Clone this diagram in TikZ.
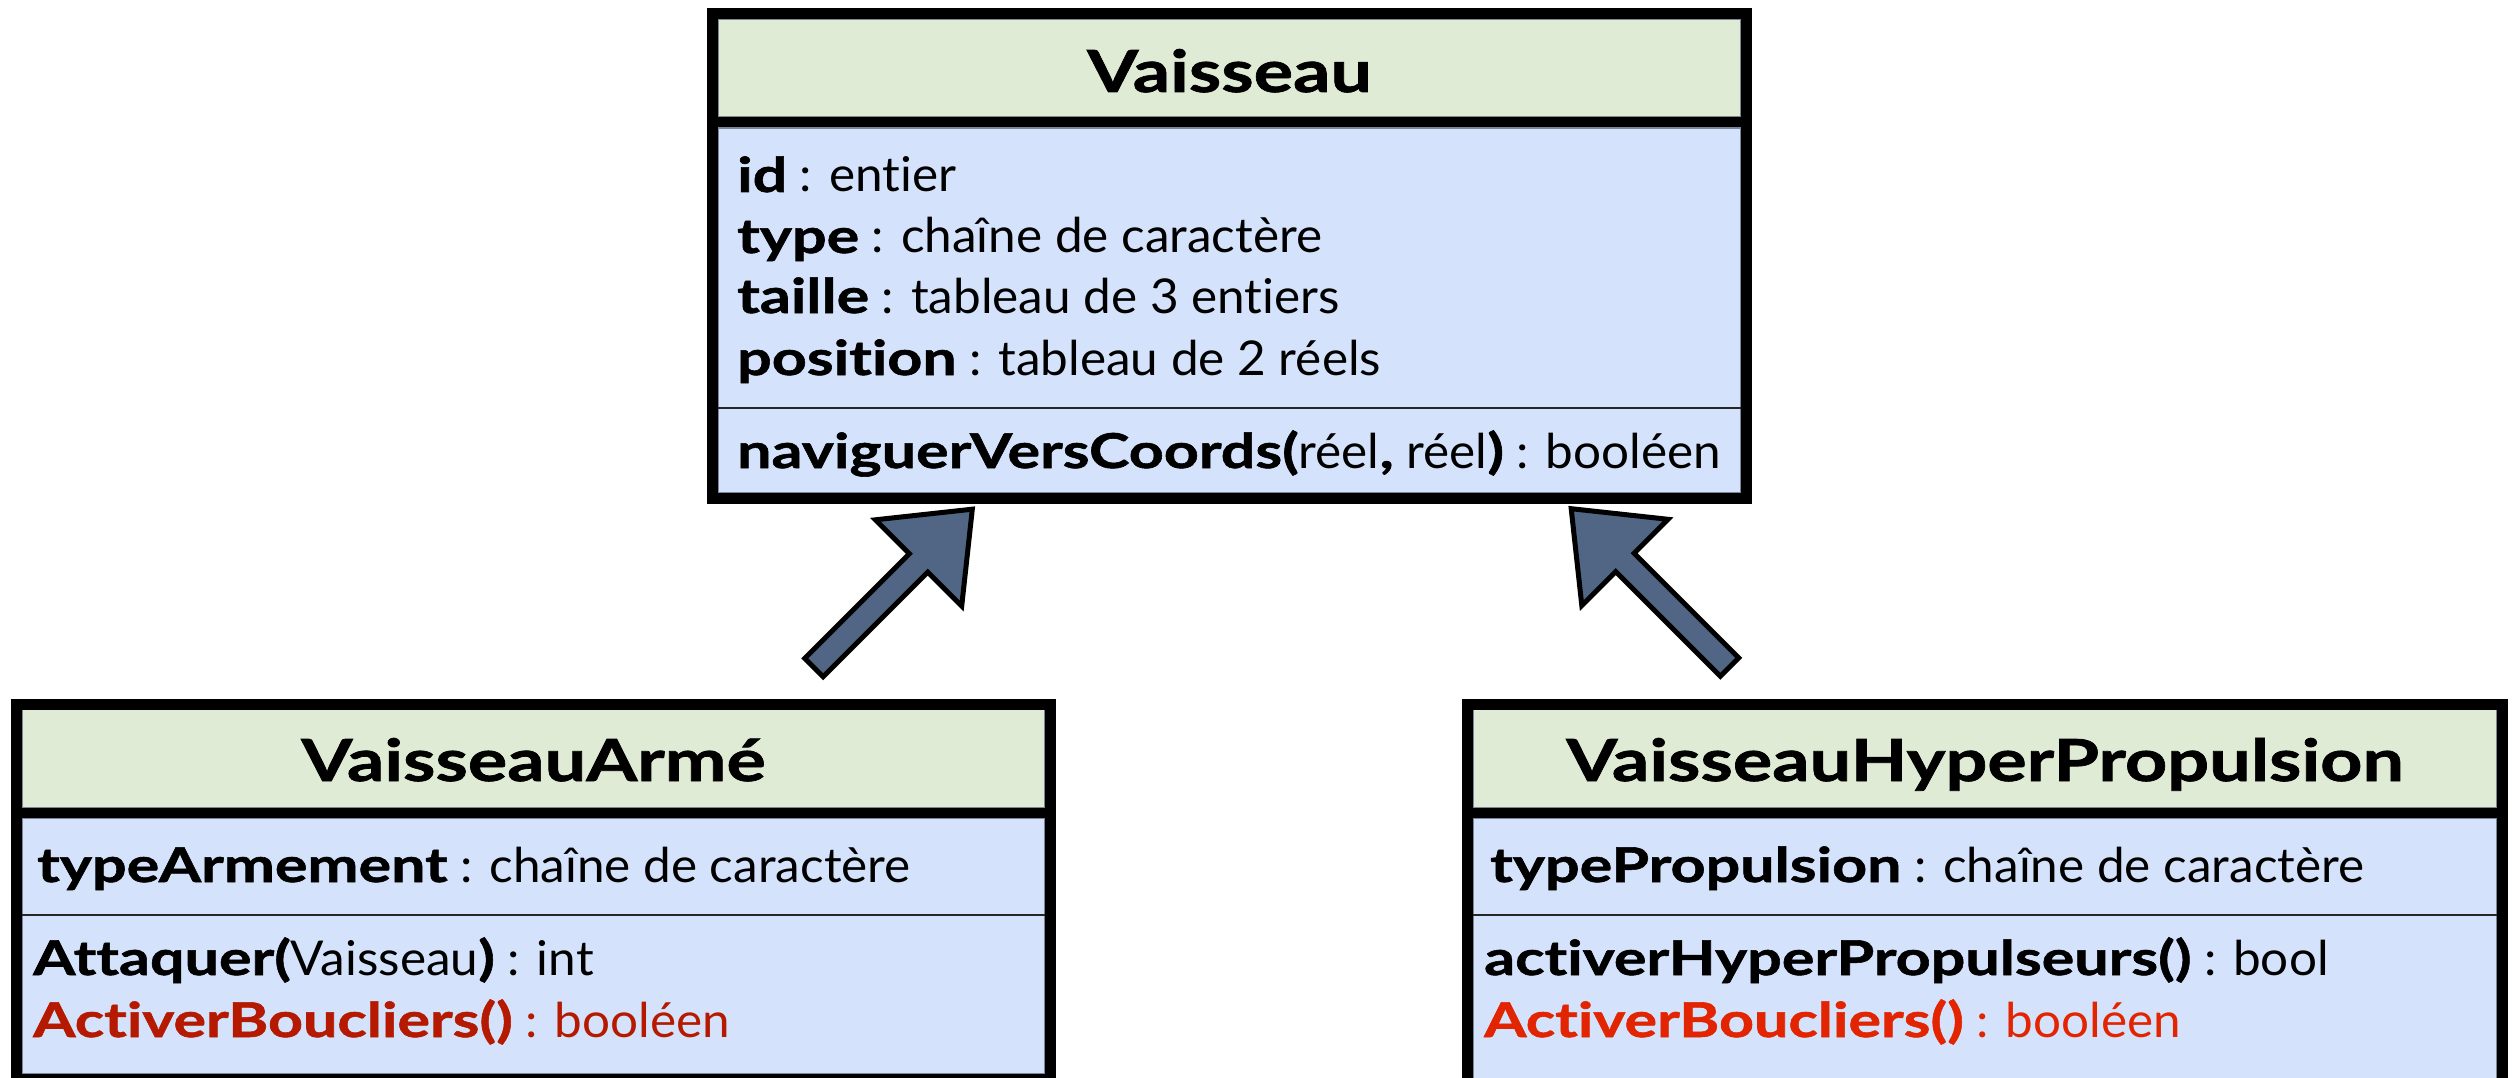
\documentclass[tikz,border=0pt]{standalone}
\usepackage{fontspec}
\setmainfont{Lato}[Ligatures=NoCommon, FakeStretch=1.03, BoldFeatures={FakeStretch=1.27, FakeBold=1.2}]
\definecolor{titlegreen}{RGB}{224,235,213}
\definecolor{bodyblue}{RGB}{212,227,251}
\definecolor{edgegray}{RGB}{120,134,150}
\definecolor{arrowblue}{RGB}{80,102,132}
\definecolor{redA}{RGB}{181,26,0}
\definecolor{redB}{RGB}{227,36,0}
\newcommand\ttlfont{\fontsize{58}{70}\selectfont\bfseries}
\newcommand\bdyfont{\fontsize{48}{58}\selectfont}
\tikzset{
  classborder/.style={draw=black, line width=11pt},
  titlesep/.style={draw=black, line width=10pt},
  thinsep/.style={draw=black!85, line width=2pt},
  titlefill/.style={fill=titlegreen, draw=edgegray, line width=1.5pt},
  bodyfill/.style={fill=bodyblue, draw=edgegray, line width=1.5pt},
  titletext/.style={font=\ttlfont, anchor=base, inner sep=0pt},
  attrtext/.style={font=\bdyfont, anchor=base west, inner sep=0pt},
  blockarrow/.style={fill=arrowblue, draw=black, line width=5pt, line join=miter, miter limit=10},
}
\begin{document}
\begin{tikzpicture}[x=1pt,y=-1pt]
\useasboundingbox (0,0) rectangle (2517,1078);
\clip (0,0) rectangle (2517,1078);

% ---------- Vaisseau ----------
\path[titlefill] (718,19) rectangle (1741,117);
\path[bodyfill] (718,128) rectangle (1741,493);
\draw[thinsep] (718,408) -- (1741,408);
\draw[titlesep] (712.5,122.5) -- (1746.5,122.5);
\draw[classborder] (712.5,13.5) rectangle (1746.5,498.5);
\node[titletext] (v-title) at (1229.5,92) {Vaisseau};
\node[attrtext] (v-id) at (737,192) {\textbf{id} : entier};
\node[attrtext] (v-type) at (737,253) {\textbf{type} : chaîne de caractère};
\node[attrtext] (v-taille) at (737,313) {\textbf{taille} : tableau de 3 entiers};
\node[attrtext] (v-pos) at (737,375) {\textbf{position} : tableau de 2 réels};
\node[attrtext] (v-nav) at (737,468) {\textbf{naviguerVersCoords(}réel\textbf{,} réel\textbf{)} : booléen};

% ---------- VaisseauArmé ----------
\path[titlefill] (22,709) rectangle (1045,808);
\path[bodyfill] (22,818) rectangle (1045,1074);
\draw[thinsep] (22,915) -- (1045,915);
\draw[titlesep] (16.5,813) -- (1050.5,813);
\draw[classborder] (16.5,704.5) rectangle (1050.5,1079.5);
\node[titletext] (a-title) at (533.5,781) {VaisseauArmé};
\node[attrtext] (a-type) at (37,882) {\textbf{typeArmement} : chaîne de caractère};
\node[attrtext] (a-att) at (33,975) {\textbf{Attaquer(}Vaisseau\textbf{)} : int};
\node[attrtext, text=redA] (a-bouc) at (33,1037) {\textbf{ActiverBoucliers()} : booléen};

% ---------- VaisseauHyperPropulsion ----------
\path[titlefill] (1473,709) rectangle (2497,808);
\path[bodyfill] (1473,818) rectangle (2497,1090);
\draw[thinsep] (1473,915) -- (2497,915);
\draw[titlesep] (1467.5,813) -- (2502.5,813);
\draw[classborder] (1467.5,704.5) rectangle (2502.5,1090);
\node[titletext] (h-title) at (1985,781) {VaisseauHyperPropulsion};
\node[attrtext] (h-type) at (1490,882) {\textbf{typePropulsion} : chaîne de caractère};
\node[attrtext] (h-act) at (1484,975) {\textbf{activerHyperPropulseurs()} : bool};
\node[attrtext, text=redB] (h-bouc) at (1484,1037) {\textbf{ActiverBoucliers()} : booléen};

% ---------- inheritance block arrows ----------
\coordinate (arrowL-tail) at (812.5,669);
\coordinate (arrowR-tail) at (1731,668.5);
\begin{scope}[shift={(arrowL-tail)}, rotate=45]
  \draw[blockarrow] (2,13) -- (150,13) -- (150,61) -- (226,0) -- (150,-61) -- (150,-13) -- (2,-13) -- cycle;
\end{scope}
\begin{scope}[shift={(arrowR-tail)}, rotate=135]
  \draw[blockarrow] (2,13) -- (150,13) -- (150,61) -- (226,0) -- (150,-61) -- (150,-13) -- (2,-13) -- cycle;
\end{scope}
\end{tikzpicture}
\end{document}
